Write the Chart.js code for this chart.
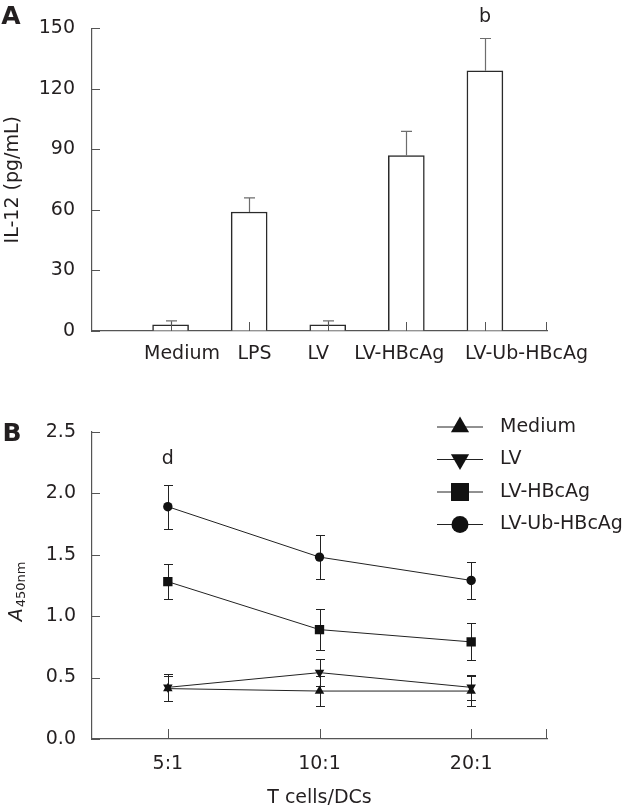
<!DOCTYPE html>
<html>
<head>
<meta charset="utf-8">
<script src="https://cdn.jsdelivr.net/npm/chart.js@4.4.0/dist/chart.umd.min.js"></script>
<style>
body{margin:0;background:#fff}
canvas{display:block}
</style>
</head>
<body>
<canvas id="graficoA" width="630" height="380"></canvas>
<canvas id="graficoB" width="630" height="431"></canvas>
<script>

// panel A data
let grupos = ["Medium","LPS","LV","LV-HBcAg","LV-Ub-HBcAg"]
let il12 = [3,59,3,87,129]
let il12Erro = [2,7,2,12,16]

// panel B data
let razoes = ["5:1","10:1","20:1"]
let nomesB = ["Medium","LV","LV-HBcAg","LV-Ub-HBcAg"]
let medium = [0.41,0.39,0.39]
let mediumErro = [0.10,0.12,0.12]
let lv = [0.42,0.54,0.42]
let lvErro = [0.11,0.11,0.10]
let lvHbc = [1.28,0.89,0.79]
let lvHbcErro = [0.14,0.17,0.15]
let lvUb = [1.89,1.48,1.29]
let lvUbErro = [0.18,0.18,0.15]

let cor = "#231f20"
let corEixo = "#555"
Chart.defaults.font.family = "'DejaVu Sans', Verdana, sans-serif"
Chart.defaults.font.size = 19
Chart.defaults.color = cor

// where the A labels sit (they are not centred under the bars)
let posRotulos = [1.145,2.067,2.88,3.91,5.53]

// tick marks drawn inside the plot, like the original
function ticksDentro(len){
return {
id:"ticksDentro",
afterDraw(chart){
let ctx = chart.ctx, a = chart.chartArea
let ys = chart.scales.y, xs = chart.scales.x
ctx.save()
ctx.strokeStyle = corEixo
ctx.lineWidth = 1
ctx.beginPath()
ys.ticks.forEach((t,i)=>{
let p = Math.round(ys.getPixelForTick(i))+0.5
ctx.moveTo(a.left,p); ctx.lineTo(a.left+8,p)
})
xs.ticks.forEach((t,i)=>{
let p = Math.round(xs.getPixelForTick(i))+0.5
ctx.moveTo(p,a.bottom); ctx.lineTo(p,a.bottom-len)
})
ctx.moveTo(a.right-0.5,a.bottom); ctx.lineTo(a.right-0.5,a.bottom-len)
ctx.stroke()
ctx.restore()
}
}
}

function letra(txt,x,y){
return {
id:"letra",
afterDraw(chart){
let ctx = chart.ctx
ctx.save()
ctx.font = "bold 25px 'DejaVu Sans'"
ctx.fillStyle = cor
ctx.textAlign = "center"
ctx.textBaseline = "middle"
ctx.fillText(txt,x,y)
ctx.restore()
}
}
}

let errosA = {
id:"errosA",
afterDatasetsDraw(chart){
let ctx = chart.ctx, ys = chart.scales.y
let meta = chart.getDatasetMeta(0)
ctx.save()
ctx.strokeStyle = "#6d6d6d"
ctx.lineWidth = 1.2
meta.data.forEach((bar,i)=>{
let x = Math.round(bar.x)+0.5
let y0 = ys.getPixelForValue(il12[i])
let y1 = ys.getPixelForValue(il12[i]+il12Erro[i])
ctx.beginPath()
ctx.moveTo(x,y0); ctx.lineTo(x,y1)
ctx.moveTo(x-5.5,y1); ctx.lineTo(x+5.5,y1)
ctx.stroke()
})
// significance mark
let ult = meta.data.length-1
ctx.fillStyle = cor
ctx.font = "19px 'DejaVu Sans'"
ctx.textAlign = "center"
ctx.textBaseline = "middle"
ctx.fillText("b",meta.data[ult].x,ys.getPixelForValue(il12[ult]+il12Erro[ult])-21)
ctx.restore()
}
}

new Chart(document.getElementById("graficoA"),{
type:"bar",
data:{
datasets:[{
data:il12.map((v,i)=>({x:i+1,y:v})),
backgroundColor:"#fff",
borderColor:"#2a2a2a",
borderWidth:1.5,
barThickness:36
}]
},
options:{
responsive:false,
animation:false,
devicePixelRatio:1,
layout:{autoPadding:false,padding:{top:23.5,right:83,left:0,bottom:0}},
plugins:{legend:{display:false},tooltip:{enabled:false}},
scales:{
y:{
min:0,max:150,
ticks:{stepSize:30,padding:17},
grid:{drawOnChartArea:false,drawTicks:false},
border:{color:corEixo,width:1.2},
title:{display:true,text:"IL-12 (pg/mL)",padding:{top:2,bottom:0}},
afterFit(s){s.width = 92}
},
x:{
type:"linear",min:0,max:5.79,offset:false,
ticks:{display:false},
grid:{drawOnChartArea:false,drawTicks:false,offset:false},
border:{color:corEixo,width:1.2},
afterBuildTicks(s){s.ticks = grupos.map((g,i)=>({value:i+1}))},
afterFit(s){s.height = 0}
},
xl:{
type:"linear",position:"bottom",weight:1,min:0,max:5.79,offset:false,
grid:{display:false,drawTicks:false,offset:false},
border:{display:false},
ticks:{autoSkip:false,maxRotation:0,padding:12,callback:(v,i)=>grupos[i]},
afterBuildTicks(s){s.ticks = posRotulos.map(p=>({value:p}))},
afterFit(s){s.height = 49}
}
}
},
plugins:[ticksDentro(9),errosA,letra("A",11,17)]
})

// panel B
let dadosB = [medium,lv,lvHbc,lvUb]
let errosDados = [mediumErro,lvErro,lvHbcErro,lvUbErro]
let marcas = [
{estilo:"triangle",rot:0,r:5.5,rl:10.5},
{estilo:"triangle",rot:180,r:5.5,rl:10.5},
{estilo:"rect",rot:0,r:6.6,rl:12.7},
{estilo:"circle",rot:0,r:4.7,rl:8.5}
]

let errosB = {
id:"errosB",
beforeDatasetsDraw(chart){
let ctx = chart.ctx, ys = chart.scales.y, xs = chart.scales.x
ctx.save()
ctx.strokeStyle = "#222"
ctx.lineWidth = 1
dadosB.forEach((serie,d)=>{
serie.forEach((v,i)=>{
let x = Math.round(xs.getPixelForValue(i))+0.5
let e = errosDados[d][i]
let yt = Math.round(ys.getPixelForValue(v+e))+0.5
let yb = Math.round(ys.getPixelForValue(v-e))+0.5
ctx.beginPath()
ctx.moveTo(x,yt); ctx.lineTo(x,yb)
ctx.moveTo(x-4.5,yt); ctx.lineTo(x+4.5,yt)
ctx.moveTo(x-4.5,yb); ctx.lineTo(x+4.5,yb)
ctx.stroke()
})
})
ctx.restore()
},
afterDraw(chart){
let ctx = chart.ctx, ys = chart.scales.y, xs = chart.scales.x
ctx.save()
ctx.fillStyle = cor
ctx.font = "19px 'DejaVu Sans'"
ctx.textAlign = "center"
ctx.textBaseline = "middle"
ctx.fillText("d",xs.getPixelForValue(0),ys.getPixelForValue(lvUb[0]+lvUbErro[0])-25)

// legend: line with marker through it
let topo = 47, passo = 32.5
nomesB.forEach((n,k)=>{
let y = topo+k*passo
ctx.strokeStyle = "#222"
ctx.lineWidth = 1
ctx.beginPath()
ctx.moveTo(437,y); ctx.lineTo(483,y)
ctx.stroke()
ctx.fillStyle = "#111"
Chart.helpers.drawPoint(ctx,{pointStyle:marcas[k].estilo,rotation:marcas[k].rot,radius:marcas[k].rl,borderWidth:0},460,y)
ctx.fillStyle = cor
ctx.textAlign = "left"
ctx.fillText(n,500,y)
})

// y title A450nm
ctx.translate(15,212)
ctx.rotate(-Math.PI/2)
ctx.textAlign = "left"
ctx.textBaseline = "alphabetic"
ctx.font = "italic 19px 'DejaVu Sans'"
let wA = ctx.measureText("A").width
ctx.font = "13px 'DejaVu Sans'"
let wS = ctx.measureText("450nm").width
let x0 = -(wA+wS)/2
ctx.font = "italic 19px 'DejaVu Sans'"
ctx.fillText("A",x0,7)
ctx.font = "13px 'DejaVu Sans'"
ctx.fillText("450nm",x0+wA+1,10)
ctx.restore()
}
}

new Chart(document.getElementById("graficoB"),{
type:"line",
data:{
labels:razoes,
datasets:dadosB.map((serie,k)=>({
label:nomesB[k],
data:serie,
borderColor:"#222",
borderWidth:1,
pointStyle:marcas[k].estilo,
pointRotation:marcas[k].rot,
pointRadius:marcas[k].r,
pointBackgroundColor:"#111",
pointBorderColor:"#111",
pointBorderWidth:0,
tension:0
}))
},
options:{
responsive:false,
animation:false,
devicePixelRatio:1,
layout:{autoPadding:false,padding:{top:51.7,right:83,left:0,bottom:0}},
plugins:{legend:{display:false},tooltip:{enabled:false}},
scales:{
y:{
min:0,max:2.5,
ticks:{stepSize:0.5,padding:16,callback:v=>v.toFixed(1)},
grid:{drawOnChartArea:false,drawTicks:false},
border:{color:corEixo,width:1.2},
afterFit(s){s.width = 92}
},
x:{
offset:true,
grid:{drawOnChartArea:false,drawTicks:false},
border:{color:corEixo,width:1.2},
ticks:{padding:14,maxRotation:0},
title:{display:true,text:"T cells/DCs",padding:{top:0,bottom:2}},
afterFit(s){s.height = 72}
}
}
},
plugins:[ticksDentro(10),errosB,letra("B",12,54)]
})

</script>
</body>
</html>
